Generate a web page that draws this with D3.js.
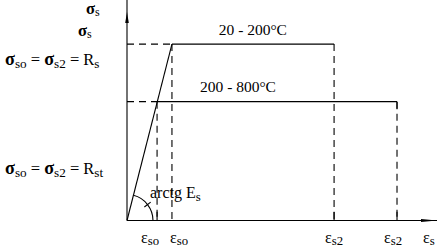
<html>
<head>
    <script src="https://d3js.org/d3.v7.min.js"></script>
    <style>
        body { margin: 0; background: #fff; }
        text { font-family: "Liberation Serif", "DejaVu Serif", serif; fill: #000; }
    </style>
</head>
<body>
    <svg id="chart"></svg>
    <script>
        var W = 444, H = 248;

        // strain values (abstract units along eps axis)
        var epsMax = 10;
        var epsSo = [0.97, 1.45];      // yield strain, 200-800 and 20-200
        var epsS2 = [6.68, 8.71];      // end of plateau, 20-200 and 200-800
        // stress levels (abstract units along sigma axis)
        var sigMax = 10;
        var sigRs = 8.0;               // 20 - 200 C
        var sigRst = 5.39;             // 200 - 800 C
        var tempLabels = ["20 - 200\u00b0C", "200 - 800\u00b0C"];

        var x = d3.scaleLinear().domain([0, epsMax]).range([127, 437]);
        var y = d3.scaleLinear().domain([0, sigMax]).range([220.5, 0]);

        var svg = d3.select("#chart").attr("width", W).attr("height", H);
        var g = svg.append("g")
            .attr("fill", "none")
            .attr("stroke", "#000")
            .attr("stroke-width", 1.1);

        function line(pts, dashed)
        {
            var p = g.append("path")
                .attr("d", d3.line().x(function(d){ return x(d[0]); }).y(function(d){ return y(d[1]); })(pts));
            if (dashed) p.attr("stroke-dasharray", "7,5");
            return p;
        }

        // axes
        line([[0, 0], [0, sigMax]]);
        line([[0, 0], [epsMax, 0]]);
        // arrow heads (narrow, filled)
        svg.append("path")
            .attr("d", "M" + x(0) + "," + (y(sigMax) + 12) + " l-1.8,11 l3.6,0 z")
            .attr("fill", "#000");
        svg.append("path")
            .attr("d", "M" + (x(epsMax)) + "," + y(0) + " l-16,-1.6 l0,3.2 z")
            .attr("fill", "#000");

        // elastic branch
        line([[0, 0], [epsSo[1], sigRs]]);

        // 20 - 200 C plateau
        line([[0, sigRs], [epsSo[1], sigRs]], true);
        line([[epsSo[1], sigRs], [epsS2[0], sigRs]]);
        line([[epsSo[1], sigRs], [epsSo[1], 0]], true);
        line([[epsS2[0], sigRs], [epsS2[0], 0]], true);

        // 200 - 800 C plateau
        line([[0, sigRst], [epsSo[0], sigRst]], true);
        line([[epsSo[0], sigRst], [epsS2[1], sigRst]]);
        line([[epsSo[0], sigRst], [epsSo[0], 0]], true);
        line([[epsS2[1], sigRst], [epsS2[1], sigRst - 0.35]]);
        line([[epsS2[1], sigRst], [epsS2[1], 0]], true);

        // small ticks on the eps axis
        [epsSo[0], epsS2[0], epsS2[1]].forEach(function(e){
            line([[e, 0], [e, 0.4]]);
        });

        // angle arc arctg Es
        var ang = Math.atan2(y(0) - y(sigRs), x(epsSo[1]) - x(0));
        var R = 26;
        g.append("path")
            .attr("transform", "translate(" + x(0) + "," + y(0) + ")")
            .attr("d", d3.arc().innerRadius(R).outerRadius(R)
                .startAngle(Math.PI / 2 - ang).endAngle(Math.PI / 2));
        var mid = ang / 2;
        g.append("path")
            .attr("d", "M" + (x(0) + (R - 4) * Math.cos(mid)) + "," + (y(0) - (R - 4) * Math.sin(mid)) +
                " L" + (x(0) + (R + 4) * Math.cos(mid)) + "," + (y(0) - (R + 4) * Math.sin(mid)));

        // texts
        function txt(xp, yp, parts, size, anchor)
        {
            var t = svg.append("text").attr("x", xp).attr("y", yp)
                .attr("font-size", size).attr("text-anchor", anchor || "start");
            parts.forEach(function(p){
                var s = t.append("tspan").text(p.t);
                if (p.sub) s.attr("font-size", size * 0.8).attr("dy", p.dy || 3);
                if (p.up) s.attr("dy", -p.up);
                if (p.b) s.attr("font-weight", "bold").attr("font-size", size * 1.1);
            });
            return t;
        }

        txt(x(4.06), 35, [{t: tempLabels[0]}], 15.5, "middle");
        txt(x(3.58), 92, [{t: tempLabels[1]}], 15.5, "middle");

        txt(86, 14, [{t: "\u03c3", b: 1}, {t: "s", sub: 1, dy: 2}], 15);
        txt(78, 36, [{t: "\u03c3", b: 1}, {t: "s", sub: 1, dy: 2}], 15);

        function eqLabel(yp, rsub)
        {
            txt(5, yp, [
                {t: "\u03c3", b: 1}, {t: "so", sub: 1, dy: 2.5},
                {t: " = ", up: 2.5}, {t: "\u03c3", b: 1}, {t: "s2", sub: 1, dy: 2.5},
                {t: " = R", up: 2.5}, {t: rsub, sub: 1, dy: 2.5}
            ], 16.5);
        }
        eqLabel(65, "s");
        eqLabel(174, "st");

        txt(150, 198, [{t: "arctg E"}, {t: "s", sub: 1, dy: 3}], 16);

        function epsLabel(xp, sub)
        {
            txt(xp, 243, [{t: "\u03b5"}, {t: sub, sub: 1, dy: 2}], 16, "start");
        }
        epsLabel(x(epsSo[0]) - 16, "so");
        epsLabel(x(epsSo[1]) - 2, "so");
        epsLabel(x(epsS2[0]) - 9, "s2");
        epsLabel(x(epsS2[1]) - 13, "s2");
        epsLabel(423, "s");
    </script>
</body>
</html>
